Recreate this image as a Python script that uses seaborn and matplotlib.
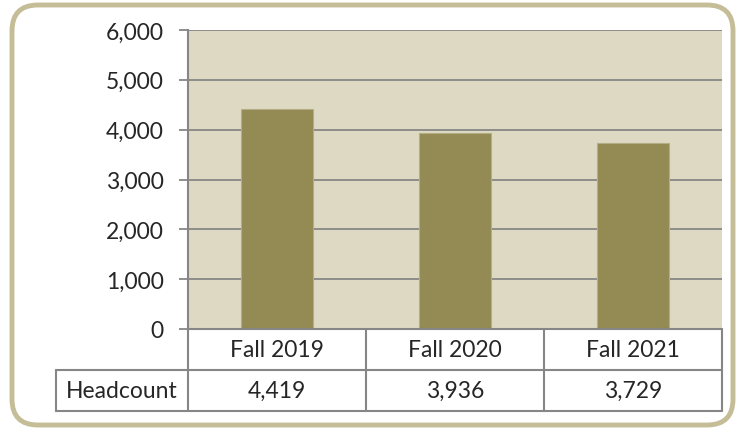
import matplotlib
matplotlib.use("Agg")
import matplotlib.pyplot as plt
import seaborn as sns
import pandas as pd
from matplotlib.patches import FancyBboxPatch

# chart data
terms = ["Fall 2019", "Fall 2020", "Fall 2021"]
headcount = [4419, 3936, 3729]
row_label = "Headcount"
y_ticks = [0, 1000, 2000, 3000, 4000, 5000, 6000]

bar_color = "#948A54"
bg_color = "#DDD9C3"
grid_color = "#868686"
frame_color = "#C4BD97"
fs = 16.5

sns.set_style("white")
plt.rcParams["font.family"] = ["Lato", "DejaVu Sans"]

W, H = 741, 431
fig = plt.figure(figsize=(W / 100, H / 100), dpi=100)

# rounded outer frame
frame = FancyBboxPatch((12 / W, 5 / H), 721 / W, 420 / H,
                       boxstyle="round,pad=0,rounding_size=0.035",
                       transform=fig.transFigure, facecolor="none",
                       edgecolor=frame_color, linewidth=3.5, mutation_aspect=W / H,
                       zorder=-1)
fig.patches.append(frame)

# main plot area
x0, x1 = 188, 722
y_top, y_zero = 31, 330
ax = fig.add_axes([x0 / W, (H - y_zero) / H, (x1 - x0) / W, (y_zero - y_top) / H])
ax.set_facecolor(bg_color)

df = pd.DataFrame({"term": terms, "headcount": headcount})
sns.barplot(data=df, x="term", y="headcount", color=bar_color, saturation=1,
            width=0.4, edgecolor="#B5AD84", linewidth=0.8, ax=ax, zorder=3)

ax.set_ylim(0, 6000)
ax.set_xlim(-0.5, len(terms) - 0.5)
ax.set_yticks(y_ticks)
ax.set_yticklabels([f"{v:,}" for v in y_ticks], fontsize=fs)
ax.set_xticks([])
ax.set_xlabel("")
ax.set_ylabel("")
for v in y_ticks:
    ax.axhline(v, color=grid_color, linewidth=1.3, zorder=1)
ax.tick_params(axis="y", length=6.5, width=1.3, color=grid_color, pad=11, left=True)
for side in ["top", "right", "bottom"]:
    ax.spines[side].set_visible(False)
ax.spines["left"].set_color(grid_color)
ax.spines["left"].set_linewidth(1.5)

# data table under the plot
t_left, t_bottom = 56, 412
col_w = (x1 - x0) / len(terms)
label_w = (x0 - t_left) / col_w
tax = fig.add_axes([t_left / W, (H - t_bottom) / H, (x1 - t_left) / W, (t_bottom - y_zero) / H])
tax.set_xlim(-0.5 - label_w, len(terms) - 0.5)
tax.set_ylim(0, 2)
tax.axis("off")

lw = 1.5
# horizontal lines
tax.plot([-0.5, len(terms) - 0.5], [2, 2], color=grid_color, lw=lw, clip_on=False)
tax.plot([-0.5 - label_w, len(terms) - 0.5], [1, 1], color=grid_color, lw=lw, clip_on=False)
tax.plot([-0.5 - label_w, len(terms) - 0.5], [0, 0], color=grid_color, lw=lw, clip_on=False)
# vertical lines
tax.plot([-0.5 - label_w] * 2, [0, 1], color=grid_color, lw=lw, clip_on=False)
for i in range(len(terms) + 1):
    tax.plot([i - 0.5] * 2, [0, 2], color=grid_color, lw=lw, clip_on=False)

for i, (t, v) in enumerate(zip(terms, headcount)):
    tax.text(i, 1.5, t, ha="center", va="center", fontsize=fs)
    tax.text(i, 0.5, f"{v:,}", ha="center", va="center", fontsize=fs)
tax.text(-0.5 - label_w / 2, 0.5, row_label, ha="center", va="center", fontsize=fs)

fig.savefig("out.png", dpi=100)
